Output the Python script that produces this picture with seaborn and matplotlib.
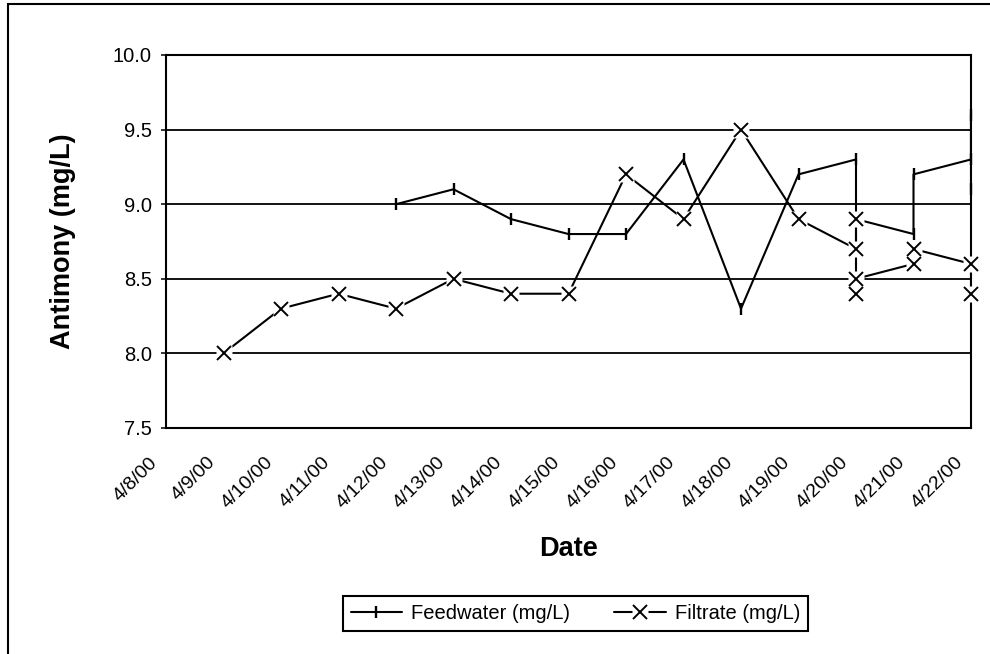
import numpy as np
import pandas as pd
import matplotlib
matplotlib.use("Agg")
import matplotlib.pyplot as plt
import matplotlib.dates as mdates
import matplotlib.transforms as mtransforms
from matplotlib.lines import Line2D
from matplotlib.legend_handler import HandlerTuple
from matplotlib.patches import Rectangle
import seaborn as sns

sns.set_theme(style="white")
plt.rcParams["font.family"] = ["Liberation Sans", "DejaVu Sans"]

# Antimony measurements (mg/L); repeated dates are multiple samples that day
feed_dates = ["2000-04-12", "2000-04-13", "2000-04-14", "2000-04-15", "2000-04-16",
              "2000-04-17", "2000-04-18", "2000-04-19", "2000-04-20", "2000-04-20",
              "2000-04-21", "2000-04-21", "2000-04-22", "2000-04-22", "2000-04-22"]
feed_values = [9.0, 9.1, 8.9, 8.8, 8.8, 9.3, 8.3, 9.2, 9.3, 8.9, 8.8, 9.2, 9.3, 9.6, 9.1]

filt_dates = ["2000-04-09", "2000-04-10", "2000-04-11", "2000-04-12", "2000-04-13",
              "2000-04-14", "2000-04-15", "2000-04-16", "2000-04-17", "2000-04-18",
              "2000-04-19", "2000-04-20", "2000-04-20", "2000-04-20", "2000-04-20",
              "2000-04-21", "2000-04-21", "2000-04-22", "2000-04-22"]
filt_values = [8.0, 8.3, 8.4, 8.3, 8.5, 8.4, 8.4, 9.2, 8.9, 9.5, 8.9,
               8.7, 8.9, 8.4, 8.5, 8.6, 8.7, 8.6, 8.4]

y_ticks = [7.5, 8.0, 8.5, 9.0, 9.5, 10.0]
x_start, x_end = "2000-04-08", "2000-04-22"

feed = pd.DataFrame({"date": pd.to_datetime(feed_dates), "value": feed_values})
filt = pd.DataFrame({"date": pd.to_datetime(filt_dates), "value": filt_values})

W, H = 990, 654
fig = plt.figure(figsize=(W / 100, H / 100), dpi=100)
fig.patch.set_facecolor("white")
L, R, T, B = 166, 971, 55, 428
ax = fig.add_axes([L / W, 1 - B / H, (R - L) / W, (B - T) / H])
ax.set_facecolor("white")

# Feedwater: solid line with vertical bar markers
sns.lineplot(data=feed, x="date", y="value", estimator=None, sort=False,
             color="black", lw=1.5, ax=ax, zorder=3, legend=False)
ax.plot(feed["date"], feed["value"], ls="none", marker="|", ms=8.5, mew=1.7,
        color="black", zorder=3.2, clip_on=False)

# Filtrate: line with X markers sitting on white squares
sns.lineplot(data=filt, x="date", y="value", estimator=None, sort=False,
             color="black", lw=1.5, ax=ax, zorder=4, legend=False)
ax.plot(filt["date"], filt["value"], ls="none", marker="s", ms=12,
        mfc="white", mec="none", zorder=4.5, clip_on=False)
ax.plot(filt["date"], filt["value"], ls="none", marker="x", ms=9.5, mew=1.4,
        color="black", zorder=5, clip_on=False)

ax.set_ylim(7.5, 10.0)
ax.set_yticks(y_ticks)
ax.yaxis.set_major_formatter(matplotlib.ticker.FormatStrFormatter("%.1f"))
ax.set_xlim(pd.Timestamp(x_start), pd.Timestamp(x_end))
ax.xaxis.set_major_locator(mdates.DayLocator())
ax.xaxis.set_major_formatter(
    matplotlib.ticker.FuncFormatter(
        lambda v, p: (lambda d: f"{d.month}/{d.day}/{d:%y}")(mdates.num2date(v))))

ax.yaxis.grid(True, color="black", lw=1.3)
ax.xaxis.grid(False)
ax.set_axisbelow(True)
for s in ax.spines.values():
    s.set_visible(True)
    s.set_color("black")
    s.set_linewidth(1.5)

ax.tick_params(axis="y", which="major", left=True, length=3.6, width=1.1,
               direction="out", pad=6.5, labelsize=14.5, colors="black")
ax.tick_params(axis="x", which="major", bottom=True, length=0, pad=23,
               labelsize=14, colors="black")
offset = mtransforms.ScaledTranslation(-11 / 100, 0, fig.dpi_scale_trans)
for lab in ax.get_xticklabels():
    lab.set_rotation(45)
    lab.set_ha("right")
    lab.set_va("center")
    lab.set_rotation_mode("anchor")
    lab.set_transform(lab.get_transform() + offset)

ax.set_xlabel("Date", fontsize=19.5, fontweight="bold", color="black")
ax.xaxis.set_label_coords(0.5, -(549 - B) / (B - T), transform=ax.transAxes)
ax.xaxis.label.set_va("center")
ax.set_ylabel("Antimony (mg/L)", fontsize=19.5, fontweight="bold", color="black")
ax.yaxis.set_label_coords(-(L - 63) / (R - L), 0.5)
ax.yaxis.label.set_va("center")

# Legend
h_feed = Line2D([], [], color="black", lw=1.5, marker="|", ms=8.5, mew=1.7)
h_filt = (Line2D([], [], color="black", lw=1.5),
          Line2D([], [], ls="none", marker="s", ms=12, mfc="white", mec="none"),
          Line2D([], [], ls="none", marker="x", ms=9.5, mew=1.4, color="black"))
leg = fig.legend([h_feed, h_filt], ["Feedwater (mg/L)", "Filtrate (mg/L)"],
                 handler_map={tuple: HandlerTuple(ndivide=1)},
                 loc="center", bbox_to_anchor=(575.5 / W, 1 - 613.5 / H),
                 ncol=2, fontsize=14.5, frameon=True, fancybox=False, shadow=False,
                 framealpha=1, edgecolor="black", handlelength=2.55,
                 handletextpad=0.45, columnspacing=2.2, borderpad=0.4,
                 borderaxespad=0)
leg.get_frame().set_linewidth(1.5)
for t in leg.get_texts():
    t.set_color("black")

# Outer chart border
fig.patches.append(Rectangle((8 / W, -0.02), 1.05, 1 - 4 / H + 0.02,
                             transform=fig.transFigure, fill=False,
                             ec="black", lw=1.5))

fig.savefig("out.png", dpi=100, facecolor="white")
